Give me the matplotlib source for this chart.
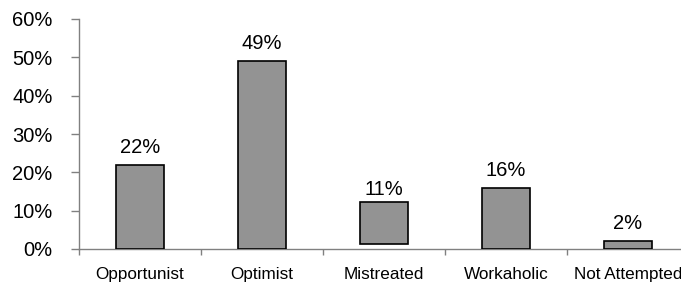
import matplotlib
matplotlib.use("Agg")
import matplotlib.pyplot as plt
import numpy as np

categories = ["Opportunist", "Optimist", "Mistreated", "Workaholic", "Not Attempted"]
values = [22, 49, 11, 16, 2]
bottoms = [0, 0, 1.3, 0, 0]
labels = ["22%", "49%", "11%", "16%", "2%"]
yticks = [0, 10, 20, 30, 40, 50, 60]
yticklabels = ["0%", "10%", "20%", "30%", "40%", "50%", "60%"]

plt.rcParams['font.family'] = ['Liberation Sans', 'DejaVu Sans']

fig = plt.figure(figsize=(6.81, 2.84), dpi=100)
ax = fig.add_axes([79/681, 35/284, 610/681, 230/284])

x = np.arange(len(categories))
ax.bar(x, values, bottom=bottoms, width=0.4, color="#939393",
       edgecolor="black", linewidth=1.2, zorder=3)
for xi, v, lab in zip(x, values, labels):
    ax.text(xi, v + 3.1, lab, ha="center", va="baseline", fontsize=14.5, color="black")

ax.set_xlim(-0.5, 4.5)
ax.set_ylim(0, 60)
ax.set_yticks(yticks)
ax.set_yticklabels(yticklabels, fontsize=14.5)
ax.set_xticks(np.arange(-0.5, 5.0, 1.0))
ax.set_xticklabels([])
ax.set_xticks(x, minor=True)
ax.set_xticklabels(categories, minor=True, fontsize=12.3)
ax.tick_params(axis="x", which="minor", length=0, pad=13)
ax.tick_params(axis="x", which="major", length=4, width=1, color="#808080", direction="out")
ax.tick_params(axis="y", length=6, width=1, color="#808080", direction="out", pad=13)

for s in ["top", "right"]:
    ax.spines[s].set_visible(False)
for s in ["left", "bottom"]:
    ax.spines[s].set_color("#808080")
    ax.spines[s].set_linewidth(1)

fig.savefig("out.png", dpi=100)
